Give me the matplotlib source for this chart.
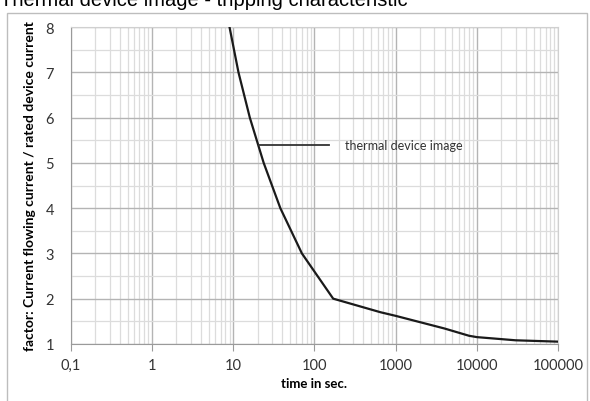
import numpy as np
import matplotlib.pyplot as plt
from matplotlib.patches import Rectangle
from matplotlib.ticker import FixedLocator, LogLocator, NullFormatter

# curve
time_s = [9, 11.6, 16, 23.7, 38, 70, 170, 650, 1000, 4000, 8000, 10000, 30000, 100000]
factor = [8.0, 7.0, 6.0, 5.0, 4.0, 3.0, 2.0, 1.70, 1.62, 1.34, 1.18, 1.15, 1.08, 1.05]

x_ticks = [0.1, 1, 10, 100, 1000, 10000, 100000]
x_labels = ["0,1", "1", "10", "100", "1000", "10000", "100000"]
y_ticks = [1, 2, 3, 4, 5, 6, 7, 8]

note_x = [21, 150]
note_y = [5.4, 5.4]
note_text = "thermal device image"


def main():
    fig = plt.figure(figsize=(5.9, 4.02), dpi=100)
    ax = fig.add_axes([0.120, 0.142, 0.826, 0.788])

    ax.plot(time_s, factor, color="#1a1a1a", lw=1.6, zorder=3)
    ax.plot(note_x, note_y, color="#333333", lw=1.3, zorder=3)
    ax.text(235, 5.4, note_text, fontsize=9, family="Lato", color="#333333",
            va="center", ha="left")

    ax.set_xscale("log")
    ax.set_xlim(0.1, 100000)
    ax.set_ylim(1, 8)

    ax.xaxis.set_major_locator(FixedLocator(x_ticks))
    ax.set_xticklabels(x_labels)
    ax.xaxis.set_minor_locator(LogLocator(base=10, subs=np.arange(2, 10)))
    ax.xaxis.set_minor_formatter(NullFormatter())
    ax.set_yticks(y_ticks)
    ax.set_yticks(np.arange(1.5, 8, 1), minor=True)

    ax.grid(which="major", color="#b4b4b4", lw=1.0)
    ax.grid(which="minor", color="#dcdcdc", lw=0.9)
    ax.set_axisbelow(True)

    for s in ["top", "right"]:
        ax.spines[s].set_color("#d0d0d0")
    for s in ["left", "bottom"]:
        ax.spines[s].set_color("#9a9a9a")
    ax.tick_params(which="major", axis="x", length=5, color="#9a9a9a",
                   labelsize=10.5, pad=5)
    ax.tick_params(which="major", axis="y", length=0, labelsize=10.5, pad=12)
    ax.tick_params(which="minor", length=0)
    for lab in ax.get_xticklabels() + ax.get_yticklabels():
        lab.set_family("Lato")
        lab.set_color("#333333")

    ax.set_xlabel("time in sec.", fontsize=9.5, fontweight="bold", family="Lato",
                  labelpad=4)
    ax.set_ylabel("factor: Current flowing current / rated device current",
                  fontsize=10, fontweight="bold", family="Lato", labelpad=7)

    # chart frame and cut-off title
    fig.patches.append(Rectangle((7 / 590, -0.01), 580 / 590, 1 - 14 / 402 + 0.01,
                                 transform=fig.transFigure, fill=False,
                                 edgecolor="#bdbdbd", lw=1.0))
    fig.text(0.0, 1 - 6 / 402, "Thermal device image - tripping characteristic",
             fontsize=14.5, family="Liberation Sans", va="baseline", ha="left")

    fig.savefig("out.png", dpi=100)


if __name__ == "__main__":
    main()
